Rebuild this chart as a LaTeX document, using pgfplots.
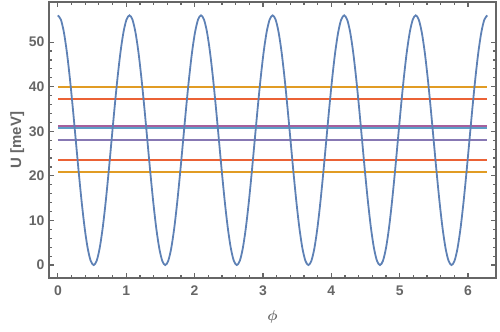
\documentclass[border=0pt]{standalone}
\usepackage{fontspec}
\setmainfont{Liberation Sans}
\usepackage{pgfplots}
\usepackage{pgfplotstable}
\pgfplotsset{compat=1.18}
\definecolor{mblue}{HTML}{5E81B5}
\definecolor{morange}{HTML}{E19C24}
\definecolor{mred}{HTML}{EB6235}
\definecolor{mpurple}{HTML}{8778B3}
\definecolor{mmagenta}{HTML}{A5609D}
\definecolor{mteal}{HTML}{5D9EC7}
\definecolor{framegray}{HTML}{666666}

% potential curve
\pgfplotstableread{
phi U
0.0000 56
0.0436 55.05
0.0873 52.25
0.1309 47.80
0.1745 42
0.2182 35.25
0.2618 28
0.3054 20.75
0.3491 14
0.3927 8.20
0.4363 3.75
0.4800 0.95
0.5236 0
0.5672 0.95
0.6109 3.75
0.6545 8.20
0.6981 14
0.7418 20.75
0.7854 28
0.8290 35.25
0.8727 42
0.9163 47.80
0.9599 52.25
1.0036 55.05
1.0472 56
1.0908 55.05
1.1345 52.25
1.1781 47.80
1.2217 42
1.2654 35.25
1.3090 28
1.3526 20.75
1.3963 14
1.4399 8.20
1.4835 3.75
1.5272 0.95
1.5708 0
1.6144 0.95
1.6581 3.75
1.7017 8.20
1.7453 14
1.7890 20.75
1.8326 28
1.8762 35.25
1.9199 42
1.9635 47.80
2.0071 52.25
2.0508 55.05
2.0944 56
2.1380 55.05
2.1817 52.25
2.2253 47.80
2.2689 42
2.3126 35.25
2.3562 28
2.3998 20.75
2.4435 14
2.4871 8.20
2.5307 3.75
2.5744 0.95
2.6180 0
2.6616 0.95
2.7053 3.75
2.7489 8.20
2.7925 14
2.8362 20.75
2.8798 28
2.9234 35.25
2.9671 42
3.0107 47.80
3.0543 52.25
3.0980 55.05
3.1416 56
3.1852 55.05
3.2289 52.25
3.2725 47.80
3.3161 42
3.3598 35.25
3.4034 28
3.4470 20.75
3.4907 14
3.5343 8.20
3.5779 3.75
3.6216 0.95
3.6652 0
3.7088 0.95
3.7525 3.75
3.7961 8.20
3.8397 14
3.8834 20.75
3.9270 28
3.9706 35.25
4.0143 42
4.0579 47.80
4.1015 52.25
4.1452 55.05
4.1888 56
4.2324 55.05
4.2761 52.25
4.3197 47.80
4.3633 42
4.4070 35.25
4.4506 28
4.4942 20.75
4.5379 14
4.5815 8.20
4.6251 3.75
4.6688 0.95
4.7124 0
4.7560 0.95
4.7997 3.75
4.8433 8.20
4.8869 14
4.9306 20.75
4.9742 28
5.0178 35.25
5.0615 42
5.1051 47.80
5.1487 52.25
5.1924 55.05
5.2360 56
5.2796 55.05
5.3233 52.25
5.3669 47.80
5.4105 42
5.4542 35.25
5.4978 28
5.5414 20.75
5.5851 14
5.6287 8.20
5.6723 3.75
5.7160 0.95
5.7596 0
5.8032 0.95
5.8469 3.75
5.8905 8.20
5.9341 14
5.9778 20.75
6.0214 28
6.0650 35.25
6.1087 42
6.1523 47.80
6.1959 52.25
6.2396 55.05
6.2832 56
}\potential

\begin{document}
\begin{tikzpicture}
\path[use as bounding box] (0,0) rectangle (500bp,332bp);
\begin{axis}[
  at={(49bp,54bp)}, anchor=south west,
  scale only axis,
  width=447bp, height=276bp,
  xmin=-0.13, xmax=6.41,
  ymin=-2.9, ymax=59,
  xtick={0,1,...,6},
  ytick={0,10,...,50},
  minor x tick num=4,
  minor y tick num=4,
  tick align=inside,
  major tick length=5bp,
  minor tick length=3bp,
  axis line style={framegray, line width=2.5bp},
  every tick/.style={framegray, line width=1.2bp},
  tick label style={font=\fontsize{14}{16}\selectfont\bfseries, text=framegray},
  /pgf/number format/assume math mode=true,
  xticklabel style={yshift=-4bp},
  yticklabel style={xshift=-1bp},
  xlabel={$\phi$},
  ylabel={\bfseries U [meV]},
  label style={font=\fontsize{15}{17}\selectfont\boldmath, text=framegray},
  xlabel style={yshift=-8bp},
  ylabel style={yshift=-2bp},
]
\addplot[morange, line width=2bp] coordinates {(0,40.0) (6.2832,40.0)};
\addplot[mred, line width=2bp] coordinates {(0,37.2) (6.2832,37.2)};
\addplot[mmagenta, line width=2bp] coordinates {(0,31.3) (6.2832,31.3)};
\addplot[mteal, line width=2bp] coordinates {(0,30.7) (6.2832,30.7)};
\addplot[mpurple, line width=2bp] coordinates {(0,28.1) (6.2832,28.1)};
\addplot[mred, line width=2bp] coordinates {(0,23.5) (6.2832,23.5)};
\addplot[morange, line width=2bp] coordinates {(0,20.9) (6.2832,20.9)};
\addplot[mblue, line width=1.8bp, smooth] table[x=phi, y=U] {\potential};
\end{axis}
\end{tikzpicture}
\end{document}
